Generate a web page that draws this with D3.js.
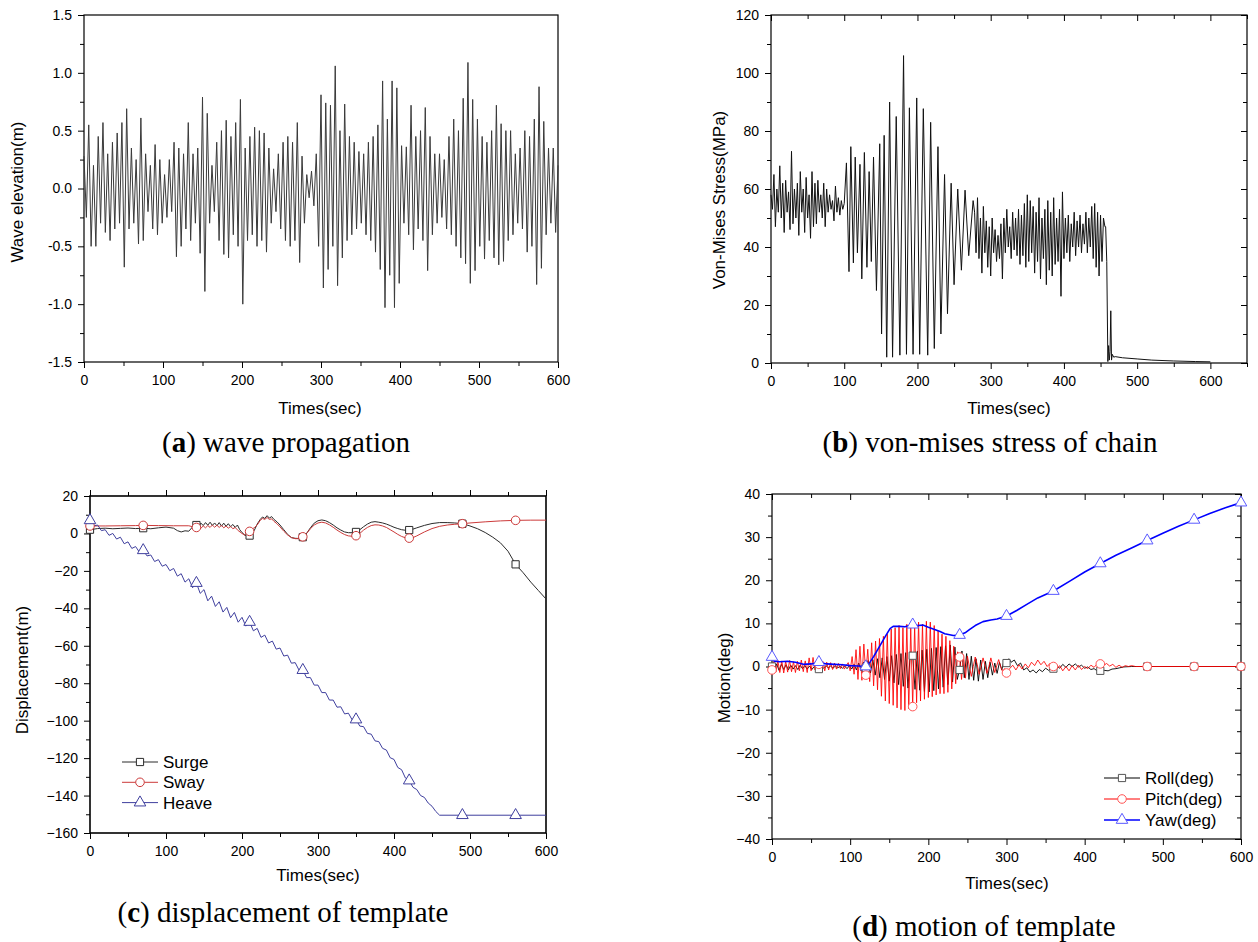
<!DOCTYPE html>
<html>
<head>
<meta charset="utf-8">
<script src="https://cdn.jsdelivr.net/npm/d3@7"></script>
<style>
  body { margin: 0; background: #fff; }
  svg text { font-family: "Liberation Sans", Arial, sans-serif; }
</style>
</head>
<body>
<svg id="fig" width="1258" height="942"></svg>
<script>
// ---------- data ----------
// (a) wave elevation, one value every 3 s (alternating crests / troughs)
var waveStep = 3;
var waveElev = [
  0.28,-0.25, 0.55,-0.5, 0.2,-0.5, 0.45,-0.3, 0.57,-0.38,
  0.3,-0.45, 0.4,-0.35, 0.48,-0.3, 0.57,-0.68, 0.69,-0.35,
  0.35,-0.3, 0.25,-0.48, 0.61,-0.45, 0.3,-0.2, 0.2,-0.35,
  0.38,-0.4, 0.25,-0.3, 0.12,-0.25, 0.25,-0.2, 0.4,-0.59,
  0.35,-0.5, 0.3,-0.35, 0.57,-0.45, 0.3,-0.3, 0.35,-0.56,
  0.79,-0.89, 0.65,-0.3, 0.2,-0.2, 0.4,-0.45, 0.5,-0.57,
  0.59,-0.6, 0.45,-0.4, 0.57,-0.5, 0.77,-1.0, 0.35,-0.45,
  0.45,-0.4, 0.53,-0.5, 0.5,-0.45, 0.48,-0.55, 0.35,-0.3,
  0.17,-0.2, 0.3,-0.35, 0.4,-0.45, 0.45,-0.5, 0.4,-0.45,
  0.57,-0.64, 0.28,-0.3, 0.12,-0.08, 0.15,-0.15, 0.3,-0.5,
  0.81,-0.86, 0.74,-0.7, 0.72,-0.5, 1.06,-0.84, 0.5,-0.6,
  0.73,-0.45, 0.45,-0.4, 0.4,-0.35, 0.32,-0.3, 0.3,-0.4,
  0.4,-0.45, 0.45,-0.55, 0.55,-0.7, 0.93,-1.03, 0.6,-0.75,
  0.93,-1.03, 0.87,-0.82, 0.37,-0.3, 0.36,-0.4, 0.72,-0.53,
  0.45,-0.35, 0.5,-0.45, 0.7,-0.71, 0.45,-0.4, 0.3,-0.3,
  0.3,-0.25, 0.25,-0.35, 0.45,-0.4, 0.6,-0.5, 0.5,-0.6,
  0.78,-0.65, 1.09,-0.82, 0.77,-0.71, 0.6,-0.5, 0.45,-0.61,
  0.4,-0.45, 0.5,-0.6, 0.72,-0.66, 0.56,-0.63, 0.5,-0.45,
  0.5,-0.4, 0.3,-0.3, 0.35,-0.35, 0.5,-0.55, 0.45,-0.5,
  0.6,-0.83, 0.88,-0.69, 0.58,-0.4, 0.35,-0.3, 0.35,-0.38,
  0.2
];

// (b) von-mises stress: 0-98 s every 2 s
var stressStart = [
  58,53,65,47,60,52,68,50,62,45,
  63,52,59,46,73,48,60,50,62,44,
  66,52,60,45,64,50,58,43,66,47,
  62,48,63,52,58,50,62,47,60,52,
  58,53,56,49,61,52,57,51,56,53
];
// big oscillation 100-276 s, [time, MPa] at crests and troughs
var stressSwing = [
  [100,55],[103,69],[106.5,31.5],[109,74.6],[112.5,34.5],[115,71],[118,38],[121.5,68.5],
  [124,29],[127.5,72.6],[131,33],[134,66],[137,35],[140,71],[144,25],[148.5,75.6],
  [151,10],[154.5,78.5],[158,2],[162,90],[166,2],[171,85],[176,2.7],[181,106],
  [185,3],[189,88],[194,3],[199,91.4],[203,3],[208,87.7],[214,2.7],[218,83],
  [223,5],[228,74.6],[232,10],[237,65],[241,17],[246,62],[250,27],[255,60],
  [260,32],[265,59.6],[270,37],[276,56]
];
// 278-456 s every 2 s
var stressLate = [
  52,38,57,36,50,31,54,38,49,33,
  47,30,50,38,46,35,44,36,48,29,
  50,38,53,40,47,36,52,39,50,37,
  53,34,51,37,55,33,58,35,56,38,
  54,31,52,35,57,29,50,36,53,27,
  56,32,52,30,57,34,50,35,53,23,
  59,36,50,38,51,35,48,40,52,37,
  49,40,51,38,48,41,52,38,50,40,
  54,36,55,33,52,30,51,35,50,47
];
// chain break and tail
var stressTail = [
  [457,47],[458.5,35],[460,0.5],[461,6],[462,1],[463,4],[464,18],[465,1],[466,3],
  [468,2],[470,2.2],[480,1.8],[500,1.4],[520,1],[550,0.7],[580,0.5],[600,0.4]
];

// (c) displacement of template
var surgeData = [
  [0,2],[10,2.6],[20,2.8],[30,2.5],[40,2.7],[50,2.9],[60,2.6],[70,2.8],[80,2.5],[90,3],
  [100,3.4],[110,2.8],[115,1.5],[120,0.8],[125,1.4],[130,1.2],[135,3.5],[140,4.5],[143,3.8],
  [146,5.5],[149,4.2],[152,5.8],[155,4.4],[158,6],[161,4.3],[164,5.6],[167,4.1],[170,5.8],
  [173,3.9],[176,5.5],[179,3.8],[182,5.2],[185,3.6],[188,4.8],[191,3.2],[194,4.5],[197,2],
  [200,0.5],[204,-1],[208,-1.5],[212,-0.8],[216,1.5],[220,5],[224,7.5],[227,8.8],[230,8],
  [233,9.5],[236,8.2],[239,9],[242,7.5],[246,6.2],[250,4.5],[255,2],[260,-0.5],[265,-2.2],
  [270,-2.6],[275,-2.7],[280,-2],[285,0],[290,3],[295,5.5],[300,6.8],[305,7.2],[310,6.8],
  [315,5.8],[320,4.5],[325,3],[330,1.8],[335,0.8],[340,0.4],[345,0.4],[350,0.8],[355,2],
  [360,3.6],[365,5],[370,6],[375,6.3],[380,6],[385,5.6],[390,5],[395,4.2],[400,3.3],
  [405,2.6],[410,2],[415,1.7],[420,1.8],[425,2.3],[430,3],[440,4.3],[450,5.3],[460,5.8],
  [470,5.8],[480,5.6],[490,5.2],[500,4],[510,2.5],[520,0.5],[530,-2],[540,-5],[550,-9.5],
  [560,-16.5],[570,-21],[580,-26],[590,-30.5],[600,-35]
];
var swayData = [
  [0,4],[20,4],[40,4.1],[60,4.2],[70,4.3],[90,4.2],[110,4.1],[130,4.1],[135,3.6],[140,3.2],
  [143,3.8],[146,2.8],[149,4],[152,3],[155,4.2],[158,3.2],[161,4.5],[164,3.3],[167,4.4],
  [170,3.2],[173,4.3],[176,3],[179,4],[182,2.8],[185,3.8],[188,2.5],[191,3.2],[195,1.5],
  [200,0],[204,-1],[208,0.2],[212,2],[216,3],[220,4.5],[224,7],[227,8],[230,7.5],[233,8.5],
  [236,7.5],[239,7.8],[242,6.5],[246,5.2],[250,3.5],[255,1.2],[260,-0.8],[265,-2.2],
  [270,-2.8],[275,-2.8],[280,-1.8],[285,0],[290,2.5],[295,4.5],[300,5.6],[305,6],[310,5.6],
  [315,4.6],[320,3.3],[325,1.8],[330,0.5],[335,-0.6],[340,-1.3],[345,-1.5],[350,-1.2],
  [355,0],[360,1.8],[365,3.2],[370,4.2],[375,4.6],[380,4.5],[385,4],[390,3.2],[395,2],
  [400,0.8],[405,-0.5],[410,-1.6],[415,-2.3],[420,-2.5],[425,-2.2],[430,-1.3],[440,0.8],
  [450,2.6],[460,3.8],[470,4.5],[480,4.9],[490,5.2],[500,5.6],[520,6.2],[540,6.7],
  [560,7],[580,7.1],[600,7.1]
];
// heave every 5 s up to 460 s, then resting on the seabed
var heaveStep = 5;
var heaveData = [
  7,4,4.5,1.5,2,-1,0,-3,-2,-5.5,
  -4.5,-8,-7,-10,-9,-12,-11.5,-15,-14,-17.5,
  -16.6,-19.9,-18.7,-22.8,-21.5,-26,-24.2,-29,-26.5,-32,
  -30,-36,-33.5,-39,-36.5,-42,-39.5,-45,-42.2,-47.4,
  -44.8,-49.5,-47.3,-52,-50.7,-55.5,-54.3,-58.5,-57.5,-61.8,
  -61.2,-65.5,-65,-69.3,-69,-73,-73,-77,-77,-81,
  -81,-85,-85,-89,-89,-92.8,-92.6,-96.4,-96,-99.6,
  -99.4,-102.9,-103.2,-106.8,-107.2,-110.8,-111.2,-114.8,-115.7,-119.8,
  -120.7,-125,-126.2,-130.6,-132,-135.6,-136.8,-140,-141,-144,
  -145.7,-148.5,-150.5
];
var heaveTail = [[500,-150.5],[600,-150.5]];
var markTimesC = [0,70,140,210,280,350,420,490,560];

// (d) motion of template
var rollStep = 3;
var rollData = [
  0,-0.8,0.6,-0.9,0.5,-0.7,0.4,-0.8,0.3,-0.6,
  0.2,-0.7,0.3,-0.5,0.2,-0.6,0.1,-0.7,0,-0.5,
  -0.6,0.1,-0.4,0.2,-0.3,0.1,-0.4,0.1,-0.3,0,
  -0.4,0.1,-0.5,0.2,-0.6,0.5,-0.8,0.8,-1,1,
  -0.3,1.4,-1.5,1.6,-2,1.8,-2.6,2,-3,2.3,
  -3.4,2.5,-3.8,2.8,-4.2,3,-4.6,3.2,-5,3.4,
  2.5,-5.3,3.6,-5.5,3.8,-5.8,4,-5.9,4.2,-5.6,
  4.4,-5.2,4.6,-4.8,4.8,-4.2,5,-3.6,4.5,-3,
  -0.8,3.6,-2.6,3,-3,2.4,-3.2,1.8,-3.4,1.5,
  -3,1.2,-2.6,1,-2,0.8,-1.6,1,-0.8,1.5,
  0.8
];
var rollTail = [
  [303,1.8],[306,1],[310,1.5],[314,0.2],[318,0.8],[322,-0.8],[326,-0.3],[330,-1.3],
  [334,-0.8],[338,-1.5],[342,-0.7],[346,-1.2],[350,-0.4],[354,-0.9],[358,-0.2],[360,-0.5],
  [364,0.2],[368,-0.4],[372,0.5],[376,-0.2],[380,0.6],[384,0],[388,0.6],[392,-0.1],
  [396,0.3],[400,-0.4],[404,-0.1],[408,-0.7],[412,-0.5],[416,-1],[420,-1],[425,-0.9],
  [430,-1],[435,-0.6],[440,-0.5],[445,-0.3],[450,-0.1],[460,0],[600,0]
];
var pitchStep = 2.5;
var pitchData = [
  -0.8,1.2,-1.3,1.4,-1.4,1.3,-1.5,1.2,-1.3,1.4,
  -1.2,1.1,-1.4,1.2,-1,1.5,-1.2,1.3,-1.4,2,
  -1,2.1,-0.8,1.5,0.5,-0.9,1.2,-1,1,-0.8,
  0.9,-0.7,0.8,-0.6,0.7,-0.5,0.6,-0.6,0.2,0.9,
  -1,2.3,-1.8,3.9,-3,4.7,-3.2,5.2,-2,4,
  -3.5,5.5,-4.5,5.9,-5.4,6.5,-6.9,7,-8,7.5,
  -8.6,8.7,-9,9,-9.6,9.5,-10,9,-10.2,9.8,
  -9.8,9,-9.3,9.5,-8.4,10.3,-8,9.8,-7.6,10.5,
  -7.2,10.3,-7,9.5,-6.6,8.3,-6.3,7.5,-6.3,7,
  -6,6,-5.2,4.7,-4,3.4,2.2,-3,2.7,-2.7,
  2.4,0,-2.3,0,2.2,0.5,-1.8,0,2,0.3,
  -1.6,0,2,0.2,-1.4,0.2,1.6,0,-1.2,-0.5,
  -1.5
];
var pitchTail = [
  [304,-0.5],[308,0.3],[312,-0.8],[316,0.4],[320,-0.6],[324,0.6],[328,-0.3],[332,1],
  [336,0.2],[340,1.5],[344,0.4],[348,1.2],[352,0],[356,0.8],[360,0],[364,-0.7],[368,0.2],
  [372,-1],[376,0],[380,-1],[384,0.2],[388,-0.8],[392,0.3],[396,-0.7],[400,0],[404,-0.5],
  [408,0.3],[412,-0.2],[416,0.6],[420,0.6],[424,0.2],[428,0.7],[432,0.1],[436,0.5],
  [440,-0.2],[444,0.3],[448,-0.2],[452,0.2],[456,0],[460,0.2],[465,0],[600,0]
];
var yawData = [
  [0,2.2],[3,1.2],[10,1.1],[20,1.2],[30,1],[40,0.5],[50,0.6],[60,1],[70,0.6],[80,0.5],
  [90,0.4],[100,0.2],[110,0.1],[120,0],[125,0.9],[130,2.3],[138,4.8],[145,7],[151,8.8],
  [155,9.3],[163,9.3],[170,9.2],[180,9.7],[187,9.5],[193,9.6],[200,9.1],[208,8.6],[215,8.1],
  [221,7.6],[232,7.2],[240,7.3],[247,7.8],[253,8.6],[260,9.5],[270,10.4],[280,10.8],
  [288,11],[300,11.7],[313,13],[326,14.4],[340,15.9],[360,17.5],[381,19.8],[400,21.9],
  [420,23.9],[440,25.8],[460,27.5],[480,29.2],[500,30.9],[520,32.5],[540,34],[560,35.5],
  [580,36.8],[600,38]
];
var markTimesD = [0,60,120,180,240,300,360,420,480,540,600];

// ---------- helpers ----------
var svg = d3.select("#fig");
var FONT = "Liberation Sans, Arial, sans-serif";

var stepSeries = function(t0, dt, vals) {
  return vals.map(function(v, i) { return [t0 + i * dt, v]; });
};

var valueAt = function(series, t) {
  // read the drawn line at time t
  var i = d3.bisector(function(d) { return d[0]; }).left(series, t);
  if (i <= 0) return series[0][1];
  if (i >= series.length) return series[series.length - 1][1];
  var a = series[i - 1], b = series[i];
  return a[1] + (b[1] - a[1]) * (t - a[0]) / (b[0] - a[0]);
};

var makePanel = function(cfg) {
  var b = cfg.box;
  var x = d3.scaleLinear().domain(cfg.xDomain).range([b.left, b.right]);
  var y = d3.scaleLinear().domain(cfg.yDomain).range([b.bottom, b.top]);
  var g = svg.append("g");

  var styleAxis = function(sel) {
    sel.attr("font-size", 14).attr("font-family", FONT);
    sel.select(".domain").remove();
    sel.selectAll(".tick text").attr("fill", "#000");
    sel.selectAll(".tick line").attr("stroke", "#000");
  };

  g.append("g").attr("transform", "translate(0," + b.bottom + ")")
    .call(d3.axisBottom(x).tickValues(cfg.xMajor).tickSize(6).tickPadding(7).tickFormat(d3.format("d")))
    .call(styleAxis);
  g.append("g").attr("transform", "translate(0," + b.bottom + ")")
    .call(d3.axisBottom(x).tickValues(cfg.xMinor).tickSize(4).tickFormat(""))
    .call(styleAxis);
  g.append("g").attr("transform", "translate(" + b.left + ",0)")
    .call(d3.axisLeft(y).tickValues(cfg.yMajor).tickSize(6).tickPadding(6).tickFormat(cfg.yFmt))
    .call(styleAxis);
  g.append("g").attr("transform", "translate(" + b.left + ",0)")
    .call(d3.axisLeft(y).tickValues(cfg.yMinor).tickSize(4).tickFormat(""))
    .call(styleAxis);

  if (cfg.topTicks) {
    var s = cfg.topTicks === "in" ? -1 : 1;
    g.append("g").attr("transform", "translate(0," + b.top + ")")
      .call(d3.axisTop(x).tickValues(cfg.xMajor).tickSize(6 * s).tickFormat(""))
      .call(styleAxis);
    g.append("g").attr("transform", "translate(0," + b.top + ")")
      .call(d3.axisTop(x).tickValues(cfg.xMinor).tickSize(4 * s).tickFormat(""))
      .call(styleAxis);
  }
  if (cfg.rightTicks) {
    g.append("g").attr("transform", "translate(" + b.right + ",0)")
      .call(d3.axisRight(y).tickValues(cfg.yMajor).tickSize(-6).tickFormat(""))
      .call(styleAxis);
    g.append("g").attr("transform", "translate(" + b.right + ",0)")
      .call(d3.axisRight(y).tickValues(cfg.yMinor).tickSize(-4).tickFormat(""))
      .call(styleAxis);
  }

  g.append("rect")
    .attr("x", b.left).attr("y", b.top)
    .attr("width", b.right - b.left).attr("height", b.bottom - b.top)
    .attr("fill", "none").attr("stroke", "#000").attr("stroke-width", cfg.frameWidth || 1.2);

  g.append("text")
    .attr("x", cfg.xTitlePos[0]).attr("y", cfg.xTitlePos[1])
    .attr("text-anchor", "middle").attr("font-size", 17)
    .text("Times(sec)");
  g.append("text")
    .attr("transform", "translate(" + cfg.yTitlePos[0] + "," + cfg.yTitlePos[1] + ") rotate(-90)")
    .attr("text-anchor", "middle").attr("dy", "0.35em").attr("font-size", 17)
    .text(cfg.yTitle);

  return { x: x, y: y, g: g };
};

var drawLine = function(p, data, color, width) {
  var line = d3.line()
    .x(function(d) { return p.x(d[0]); })
    .y(function(d) { return p.y(d[1]); });
  p.g.append("path").datum(data)
    .attr("d", line).attr("fill", "none")
    .attr("stroke", color).attr("stroke-width", width)
    .attr("stroke-linejoin", "round");
};

var SYM = { square: d3.symbolSquare, circle: d3.symbolCircle, triangle: d3.symbolTriangle };
var SYM_SIZE = { square: 52, circle: 58, triangle: 58 };

var drawMarkers = function(p, data, times, shape, color) {
  var sym = d3.symbol().type(SYM[shape]).size(SYM_SIZE[shape]);
  p.g.selectAll(null).data(times).enter().append("path")
    .attr("d", sym)
    .attr("transform", function(t) { return "translate(" + p.x(t) + "," + p.y(valueAt(data, t)) + ")"; })
    .attr("fill", "#fff").attr("stroke", color).attr("stroke-width", 1);
};

var drawLegend = function(p, items, x0, y0, gap) {
  items.forEach(function(it, i) {
    var yy = y0 + i * gap;
    p.g.append("line")
      .attr("x1", x0).attr("x2", x0 + 36).attr("y1", yy).attr("y2", yy)
      .attr("stroke", it.color).attr("stroke-width", it.width);
    p.g.append("path")
      .attr("d", d3.symbol().type(SYM[it.shape]).size(SYM_SIZE[it.shape]))
      .attr("transform", "translate(" + (x0 + 18) + "," + yy + ")")
      .attr("fill", "#fff").attr("stroke", it.mark).attr("stroke-width", 1);
    p.g.append("text")
      .attr("x", x0 + 41).attr("y", yy).attr("dy", "0.35em")
      .attr("font-size", 17).text(it.label);
  });
};

var caption = function(cx, cy, letter, rest) {
  var t = svg.append("text")
    .attr("x", cx).attr("y", cy).attr("text-anchor", "middle")
    .style("font-family", "Liberation Serif, 'Times New Roman', serif")
    .attr("font-size", 29);
  t.append("tspan").text("(");
  t.append("tspan").attr("font-weight", "bold").text(letter);
  t.append("tspan").text(") " + rest);
};

var xMajor = d3.range(0, 601, 100);

// ---------- (a) wave propagation ----------
var pa = makePanel({
  box: { left: 84, right: 558, top: 15, bottom: 362 },
  xDomain: [0, 600], yDomain: [-1.5, 1.5],
  xMajor: xMajor, xMinor: d3.range(50, 600, 100),
  yMajor: d3.range(-1.5, 1.51, 0.5), yMinor: d3.range(-1.25, 1.5, 0.5),
  yFmt: function(d) { return d.toFixed(1); },
  xTitlePos: [320, 414], yTitlePos: [17, 192], yTitle: "Wave elevation(m)"
});
drawLine(pa, stepSeries(0, waveStep, waveElev), "#3a3a3a", 1);

// ---------- (b) von-mises stress ----------
var pb = makePanel({
  box: { left: 771, right: 1247, top: 15, bottom: 363 },
  xDomain: [0, 650], yDomain: [0, 120],
  xMajor: xMajor, xMinor: d3.range(50, 651, 100),
  yMajor: d3.range(0, 121, 20), yMinor: d3.range(10, 120, 20),
  yFmt: d3.format("d"), topTicks: "in", rightTicks: true,
  xTitlePos: [1009, 414], yTitlePos: [719, 200], yTitle: "Von-Mises Stress(MPa)"
});
var stressSeries = stepSeries(0, 2, stressStart)
  .concat(stressSwing)
  .concat(stepSeries(278, 2, stressLate))
  .concat(stressTail);
drawLine(pb, stressSeries, "#111", 1);

// ---------- (c) displacement ----------
var pc = makePanel({
  box: { left: 90, right: 546, top: 496, bottom: 833 },
  xDomain: [0, 600], yDomain: [-160, 20],
  xMajor: xMajor, xMinor: d3.range(50, 600, 100),
  yMajor: d3.range(-160, 21, 20), yMinor: d3.range(-150, 20, 20),
  yFmt: d3.format("d"), topTicks: "out", frameWidth: 1.6,
  xTitlePos: [318, 881], yTitlePos: [22, 670], yTitle: "Displacement(m)"
});
var heaveSeries = stepSeries(0, heaveStep, heaveData).concat(heaveTail);
var colC = { surge: "#2b2b2b", sway: "#cc3a3a", heave: "#3f3f9e" };
drawLine(pc, surgeData, colC.surge, 1);
drawLine(pc, swayData, colC.sway, 1);
drawLine(pc, heaveSeries, colC.heave, 1);
drawMarkers(pc, surgeData, markTimesC, "square", colC.surge);
drawMarkers(pc, swayData, markTimesC, "circle", colC.sway);
drawMarkers(pc, heaveSeries, markTimesC, "triangle", colC.heave);
drawLegend(pc, [
  { label: "Surge", color: colC.surge, mark: colC.surge, shape: "square", width: 1 },
  { label: "Sway", color: colC.sway, mark: colC.sway, shape: "circle", width: 1 },
  { label: "Heave", color: colC.heave, mark: colC.heave, shape: "triangle", width: 1 }
], 122, 762, 20.3);

// ---------- (d) motion ----------
var pd = makePanel({
  box: { left: 772, right: 1241, top: 494, bottom: 839 },
  xDomain: [0, 600], yDomain: [-40, 40],
  xMajor: xMajor, xMinor: d3.range(50, 600, 100),
  yMajor: d3.range(-40, 41, 10), yMinor: d3.range(-35, 40, 10),
  yFmt: d3.format("d"), topTicks: "in", rightTicks: true,
  xTitlePos: [1007, 889], yTitlePos: [724, 678], yTitle: "Motion(deg)"
});
var rollSeries = stepSeries(0, rollStep, rollData).concat(rollTail);
var pitchSeries = stepSeries(0, pitchStep, pitchData).concat(pitchTail);
drawLine(pd, rollSeries, "#000", 0.9);
drawLine(pd, pitchSeries, "#ff0000", 0.85);
drawLine(pd, yawData, "#0000ff", 1.6);
drawMarkers(pd, rollSeries, markTimesD, "square", "#555");
drawMarkers(pd, pitchSeries, markTimesD, "circle", "#ff5555");
drawMarkers(pd, yawData, markTimesD, "triangle", "#5a5aff");
drawLegend(pd, [
  { label: "Roll(deg)", color: "#000", mark: "#555", shape: "square", width: 1 },
  { label: "Pitch(deg)", color: "#ff0000", mark: "#ff5555", shape: "circle", width: 1 },
  { label: "Yaw(deg)", color: "#0000ff", mark: "#5a5aff", shape: "triangle", width: 1.6 }
], 1104, 778, 21);

// ---------- captions ----------
caption(286, 452, "a", "wave propagation");
caption(990, 452, "b", "von-mises stress of chain");
caption(283, 922, "c", "displacement of template");
caption(984, 936, "d", "motion of template");
</script>
</body>
</html>
